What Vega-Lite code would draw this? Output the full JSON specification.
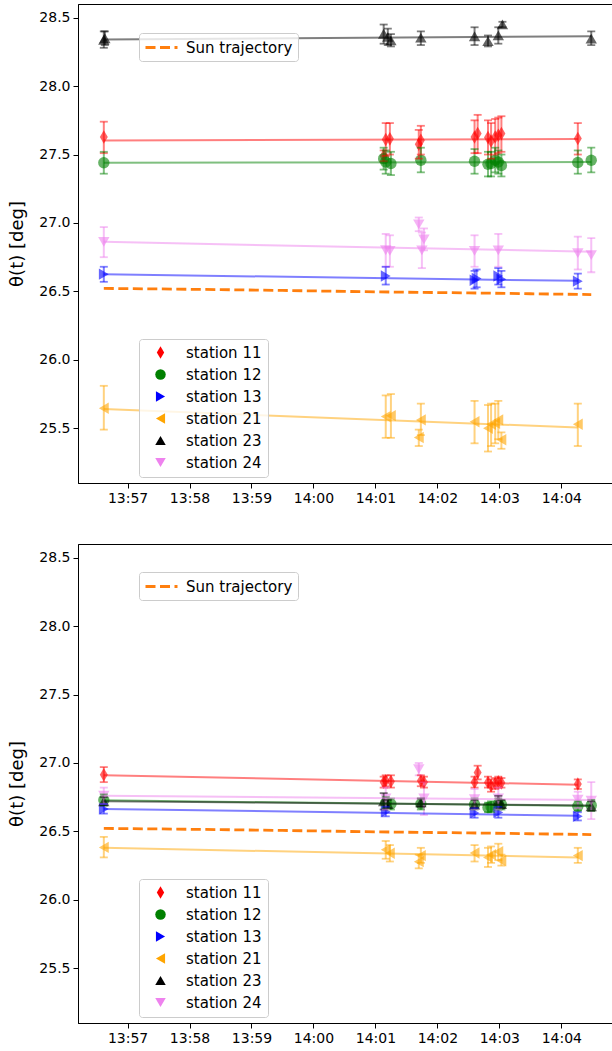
{
  "$schema": "https://vega.github.io/schema/vega-lite/v6.json",
  "padding": {"left": 8, "top": 3, "right": 0, "bottom": 5},
  "bounds": "flush",
  "spacing": 61,
  "config": {
    "font": "DejaVu Sans",
    "view": {"stroke": "#000000", "strokeWidth": 1},
    "axis": {"grid": false, "domainColor": "#000000", "tickColor": "#000000", "labelColor": "#000000", "labelFont": "DejaVu Sans", "labelFontSize": 14, "tickSize": 5, "labelPadding": 3, "titleFont": "DejaVu Sans", "titleFontSize": 18, "titleFontWeight": "normal", "titleColor": "#000000"},
    "legend": {"labelFont": "DejaVu Sans", "labelFontSize": 15, "labelColor": "#000000", "strokeColor": "#cccccc", "fillColor": "rgba(255,255,255,0.8)", "cornerRadius": 3, "orient": "none"}
  },
  "datasets": {
    "pts": [
      {"panel": "A", "station": "station 11", "t": "2024-01-01T13:56:37", "v": 27.628, "lo": 27.51, "hi": 27.74},
      {"panel": "A", "station": "station 11", "t": "2024-01-01T14:01:08", "v": 27.49, "lo": 27.45, "hi": 27.53},
      {"panel": "A", "station": "station 11", "t": "2024-01-01T14:01:10", "v": 27.61, "lo": 27.49, "hi": 27.73},
      {"panel": "A", "station": "station 11", "t": "2024-01-01T14:01:14", "v": 27.615, "lo": 27.5, "hi": 27.73},
      {"panel": "A", "station": "station 11", "t": "2024-01-01T14:01:42", "v": 27.575, "lo": 27.47, "hi": 27.68},
      {"panel": "A", "station": "station 11", "t": "2024-01-01T14:01:44", "v": 27.604, "lo": 27.5, "hi": 27.71},
      {"panel": "A", "station": "station 11", "t": "2024-01-01T14:02:36", "v": 27.628, "lo": 27.51, "hi": 27.75},
      {"panel": "A", "station": "station 11", "t": "2024-01-01T14:02:39", "v": 27.653, "lo": 27.51, "hi": 27.79},
      {"panel": "A", "station": "station 11", "t": "2024-01-01T14:02:49", "v": 27.624, "lo": 27.5, "hi": 27.75},
      {"panel": "A", "station": "station 11", "t": "2024-01-01T14:02:52", "v": 27.599, "lo": 27.47, "hi": 27.73},
      {"panel": "A", "station": "station 11", "t": "2024-01-01T14:02:56", "v": 27.628, "lo": 27.5, "hi": 27.76},
      {"panel": "A", "station": "station 11", "t": "2024-01-01T14:02:59", "v": 27.641, "lo": 27.51, "hi": 27.77},
      {"panel": "A", "station": "station 11", "t": "2024-01-01T14:03:02", "v": 27.653, "lo": 27.52, "hi": 27.78},
      {"panel": "A", "station": "station 11", "t": "2024-01-01T14:04:16", "v": 27.617, "lo": 27.5, "hi": 27.73},
      {"panel": "A", "station": "station 12", "t": "2024-01-01T13:56:37", "v": 27.44, "lo": 27.36, "hi": 27.52},
      {"panel": "A", "station": "station 12", "t": "2024-01-01T14:01:08", "v": 27.47, "lo": 27.39, "hi": 27.55},
      {"panel": "A", "station": "station 12", "t": "2024-01-01T14:01:10", "v": 27.446, "lo": 27.36, "hi": 27.53},
      {"panel": "A", "station": "station 12", "t": "2024-01-01T14:01:15", "v": 27.434, "lo": 27.35, "hi": 27.52},
      {"panel": "A", "station": "station 12", "t": "2024-01-01T14:01:44", "v": 27.458, "lo": 27.37, "hi": 27.55},
      {"panel": "A", "station": "station 12", "t": "2024-01-01T14:02:36", "v": 27.451, "lo": 27.36, "hi": 27.54},
      {"panel": "A", "station": "station 12", "t": "2024-01-01T14:02:49", "v": 27.429, "lo": 27.34, "hi": 27.52},
      {"panel": "A", "station": "station 12", "t": "2024-01-01T14:02:52", "v": 27.434, "lo": 27.34, "hi": 27.52},
      {"panel": "A", "station": "station 12", "t": "2024-01-01T14:02:56", "v": 27.458, "lo": 27.37, "hi": 27.55},
      {"panel": "A", "station": "station 12", "t": "2024-01-01T14:02:59", "v": 27.446, "lo": 27.36, "hi": 27.53},
      {"panel": "A", "station": "station 12", "t": "2024-01-01T14:03:02", "v": 27.42, "lo": 27.34, "hi": 27.5},
      {"panel": "A", "station": "station 12", "t": "2024-01-01T14:04:16", "v": 27.442, "lo": 27.36, "hi": 27.53},
      {"panel": "A", "station": "station 12", "t": "2024-01-01T14:04:29", "v": 27.458, "lo": 27.37, "hi": 27.55},
      {"panel": "A", "station": "station 13", "t": "2024-01-01T13:56:37", "v": 26.626, "lo": 26.57, "hi": 26.68},
      {"panel": "A", "station": "station 13", "t": "2024-01-01T14:01:10", "v": 26.612, "lo": 26.55, "hi": 26.68},
      {"panel": "A", "station": "station 13", "t": "2024-01-01T14:02:36", "v": 26.582, "lo": 26.52, "hi": 26.65},
      {"panel": "A", "station": "station 13", "t": "2024-01-01T14:02:38", "v": 26.595, "lo": 26.53, "hi": 26.66},
      {"panel": "A", "station": "station 13", "t": "2024-01-01T14:02:59", "v": 26.612, "lo": 26.55, "hi": 26.67},
      {"panel": "A", "station": "station 13", "t": "2024-01-01T14:03:02", "v": 26.588, "lo": 26.53, "hi": 26.65},
      {"panel": "A", "station": "station 13", "t": "2024-01-01T14:04:16", "v": 26.575, "lo": 26.52, "hi": 26.63},
      {"panel": "A", "station": "station 21", "t": "2024-01-01T13:56:37", "v": 25.646, "lo": 25.49, "hi": 25.81},
      {"panel": "A", "station": "station 21", "t": "2024-01-01T14:01:10", "v": 25.585, "lo": 25.43, "hi": 25.74},
      {"panel": "A", "station": "station 21", "t": "2024-01-01T14:01:15", "v": 25.592, "lo": 25.43, "hi": 25.75},
      {"panel": "A", "station": "station 21", "t": "2024-01-01T14:01:42", "v": 25.432, "lo": 25.37, "hi": 25.49},
      {"panel": "A", "station": "station 21", "t": "2024-01-01T14:01:44", "v": 25.561, "lo": 25.45, "hi": 25.68},
      {"panel": "A", "station": "station 21", "t": "2024-01-01T14:02:36", "v": 25.548, "lo": 25.39, "hi": 25.7},
      {"panel": "A", "station": "station 21", "t": "2024-01-01T14:02:49", "v": 25.5, "lo": 25.33, "hi": 25.67},
      {"panel": "A", "station": "station 21", "t": "2024-01-01T14:02:52", "v": 25.529, "lo": 25.37, "hi": 25.68},
      {"panel": "A", "station": "station 21", "t": "2024-01-01T14:02:56", "v": 25.536, "lo": 25.39, "hi": 25.68},
      {"panel": "A", "station": "station 21", "t": "2024-01-01T14:02:59", "v": 25.561, "lo": 25.42, "hi": 25.7},
      {"panel": "A", "station": "station 21", "t": "2024-01-01T14:03:02", "v": 25.416, "lo": 25.35, "hi": 25.47},
      {"panel": "A", "station": "station 21", "t": "2024-01-01T14:04:16", "v": 25.529, "lo": 25.37, "hi": 25.68},
      {"panel": "A", "station": "station 23", "t": "2024-01-01T13:56:37", "v": 28.339, "lo": 28.28, "hi": 28.4},
      {"panel": "A", "station": "station 23", "t": "2024-01-01T13:56:38", "v": 28.35, "lo": 28.3, "hi": 28.4},
      {"panel": "A", "station": "station 23", "t": "2024-01-01T14:01:08", "v": 28.383, "lo": 28.31, "hi": 28.45},
      {"panel": "A", "station": "station 23", "t": "2024-01-01T14:01:12", "v": 28.36, "lo": 28.3, "hi": 28.42},
      {"panel": "A", "station": "station 23", "t": "2024-01-01T14:01:15", "v": 28.334, "lo": 28.29, "hi": 28.38},
      {"panel": "A", "station": "station 23", "t": "2024-01-01T14:01:44", "v": 28.354, "lo": 28.3, "hi": 28.4},
      {"panel": "A", "station": "station 23", "t": "2024-01-01T14:02:36", "v": 28.364, "lo": 28.3, "hi": 28.43},
      {"panel": "A", "station": "station 23", "t": "2024-01-01T14:02:49", "v": 28.329, "lo": 28.29, "hi": 28.37},
      {"panel": "A", "station": "station 23", "t": "2024-01-01T14:02:59", "v": 28.371, "lo": 28.31, "hi": 28.43},
      {"panel": "A", "station": "station 23", "t": "2024-01-01T14:03:03", "v": 28.451, "lo": 28.43, "hi": 28.47},
      {"panel": "A", "station": "station 23", "t": "2024-01-01T14:04:29", "v": 28.347, "lo": 28.3, "hi": 28.4},
      {"panel": "A", "station": "station 24", "t": "2024-01-01T13:56:37", "v": 26.862, "lo": 26.75, "hi": 26.97},
      {"panel": "A", "station": "station 24", "t": "2024-01-01T14:01:10", "v": 26.801, "lo": 26.68, "hi": 26.92},
      {"panel": "A", "station": "station 24", "t": "2024-01-01T14:01:14", "v": 26.796, "lo": 26.68, "hi": 26.91},
      {"panel": "A", "station": "station 24", "t": "2024-01-01T14:01:42", "v": 26.99, "lo": 26.94, "hi": 27.04},
      {"panel": "A", "station": "station 24", "t": "2024-01-01T14:01:45", "v": 26.8, "lo": 26.67, "hi": 26.93},
      {"panel": "A", "station": "station 24", "t": "2024-01-01T14:01:47", "v": 26.88, "lo": 26.8, "hi": 26.96},
      {"panel": "A", "station": "station 24", "t": "2024-01-01T14:02:36", "v": 26.796, "lo": 26.68, "hi": 26.91},
      {"panel": "A", "station": "station 24", "t": "2024-01-01T14:02:59", "v": 26.8, "lo": 26.68, "hi": 26.92},
      {"panel": "A", "station": "station 24", "t": "2024-01-01T14:04:16", "v": 26.78, "lo": 26.66, "hi": 26.9},
      {"panel": "A", "station": "station 24", "t": "2024-01-01T14:04:29", "v": 26.765, "lo": 26.64, "hi": 26.89},
      {"panel": "B", "station": "station 11", "t": "2024-01-01T13:56:37", "v": 26.914, "lo": 26.86, "hi": 26.97},
      {"panel": "B", "station": "station 11", "t": "2024-01-01T14:01:08", "v": 26.86, "lo": 26.82, "hi": 26.9},
      {"panel": "B", "station": "station 11", "t": "2024-01-01T14:01:10", "v": 26.87, "lo": 26.83, "hi": 26.91},
      {"panel": "B", "station": "station 11", "t": "2024-01-01T14:01:15", "v": 26.865, "lo": 26.82, "hi": 26.91},
      {"panel": "B", "station": "station 11", "t": "2024-01-01T14:01:44", "v": 26.87, "lo": 26.83, "hi": 26.91},
      {"panel": "B", "station": "station 11", "t": "2024-01-01T14:01:47", "v": 26.86, "lo": 26.82, "hi": 26.9},
      {"panel": "B", "station": "station 11", "t": "2024-01-01T14:02:36", "v": 26.86, "lo": 26.82, "hi": 26.9},
      {"panel": "B", "station": "station 11", "t": "2024-01-01T14:02:39", "v": 26.93, "lo": 26.88, "hi": 26.98},
      {"panel": "B", "station": "station 11", "t": "2024-01-01T14:02:49", "v": 26.858, "lo": 26.82, "hi": 26.9},
      {"panel": "B", "station": "station 11", "t": "2024-01-01T14:02:52", "v": 26.834, "lo": 26.79, "hi": 26.88},
      {"panel": "B", "station": "station 11", "t": "2024-01-01T14:02:56", "v": 26.85, "lo": 26.81, "hi": 26.89},
      {"panel": "B", "station": "station 11", "t": "2024-01-01T14:02:59", "v": 26.863, "lo": 26.82, "hi": 26.9},
      {"panel": "B", "station": "station 11", "t": "2024-01-01T14:03:02", "v": 26.855, "lo": 26.82, "hi": 26.89},
      {"panel": "B", "station": "station 11", "t": "2024-01-01T14:04:16", "v": 26.846, "lo": 26.81, "hi": 26.88},
      {"panel": "B", "station": "station 12", "t": "2024-01-01T13:56:37", "v": 26.729, "lo": 26.69, "hi": 26.77},
      {"panel": "B", "station": "station 12", "t": "2024-01-01T14:01:10", "v": 26.71, "lo": 26.67, "hi": 26.75},
      {"panel": "B", "station": "station 12", "t": "2024-01-01T14:01:15", "v": 26.7, "lo": 26.66, "hi": 26.74},
      {"panel": "B", "station": "station 12", "t": "2024-01-01T14:01:44", "v": 26.7, "lo": 26.66, "hi": 26.74},
      {"panel": "B", "station": "station 12", "t": "2024-01-01T14:02:36", "v": 26.696, "lo": 26.66, "hi": 26.74},
      {"panel": "B", "station": "station 12", "t": "2024-01-01T14:02:49", "v": 26.675, "lo": 26.64, "hi": 26.71},
      {"panel": "B", "station": "station 12", "t": "2024-01-01T14:02:52", "v": 26.68, "lo": 26.64, "hi": 26.72},
      {"panel": "B", "station": "station 12", "t": "2024-01-01T14:02:59", "v": 26.7, "lo": 26.66, "hi": 26.74},
      {"panel": "B", "station": "station 12", "t": "2024-01-01T14:03:02", "v": 26.696, "lo": 26.66, "hi": 26.73},
      {"panel": "B", "station": "station 12", "t": "2024-01-01T14:04:16", "v": 26.683, "lo": 26.65, "hi": 26.72},
      {"panel": "B", "station": "station 12", "t": "2024-01-01T14:04:29", "v": 26.69, "lo": 26.65, "hi": 26.73},
      {"panel": "B", "station": "station 13", "t": "2024-01-01T13:56:37", "v": 26.664, "lo": 26.63, "hi": 26.7},
      {"panel": "B", "station": "station 13", "t": "2024-01-01T14:01:10", "v": 26.644, "lo": 26.61, "hi": 26.68},
      {"panel": "B", "station": "station 13", "t": "2024-01-01T14:02:36", "v": 26.634, "lo": 26.6, "hi": 26.67},
      {"panel": "B", "station": "station 13", "t": "2024-01-01T14:02:59", "v": 26.639, "lo": 26.6, "hi": 26.68},
      {"panel": "B", "station": "station 13", "t": "2024-01-01T14:04:16", "v": 26.61, "lo": 26.58, "hi": 26.64},
      {"panel": "B", "station": "station 21", "t": "2024-01-01T13:56:37", "v": 26.383, "lo": 26.31, "hi": 26.46},
      {"panel": "B", "station": "station 21", "t": "2024-01-01T14:01:10", "v": 26.366, "lo": 26.3, "hi": 26.43},
      {"panel": "B", "station": "station 21", "t": "2024-01-01T14:01:14", "v": 26.34, "lo": 26.28, "hi": 26.4},
      {"panel": "B", "station": "station 21", "t": "2024-01-01T14:01:42", "v": 26.279, "lo": 26.23, "hi": 26.33},
      {"panel": "B", "station": "station 21", "t": "2024-01-01T14:01:44", "v": 26.323, "lo": 26.27, "hi": 26.38},
      {"panel": "B", "station": "station 21", "t": "2024-01-01T14:02:36", "v": 26.342, "lo": 26.28, "hi": 26.4},
      {"panel": "B", "station": "station 21", "t": "2024-01-01T14:02:49", "v": 26.31, "lo": 26.24, "hi": 26.38},
      {"panel": "B", "station": "station 21", "t": "2024-01-01T14:02:52", "v": 26.33, "lo": 26.27, "hi": 26.39},
      {"panel": "B", "station": "station 21", "t": "2024-01-01T14:02:59", "v": 26.352, "lo": 26.29, "hi": 26.41},
      {"panel": "B", "station": "station 21", "t": "2024-01-01T14:03:02", "v": 26.286, "lo": 26.25, "hi": 26.33},
      {"panel": "B", "station": "station 21", "t": "2024-01-01T14:04:16", "v": 26.323, "lo": 26.27, "hi": 26.38},
      {"panel": "B", "station": "station 23", "t": "2024-01-01T13:56:37", "v": 26.719, "lo": 26.69, "hi": 26.75},
      {"panel": "B", "station": "station 23", "t": "2024-01-01T14:01:08", "v": 26.72, "lo": 26.66, "hi": 26.78},
      {"panel": "B", "station": "station 23", "t": "2024-01-01T14:01:12", "v": 26.7, "lo": 26.67, "hi": 26.73},
      {"panel": "B", "station": "station 23", "t": "2024-01-01T14:01:44", "v": 26.712, "lo": 26.68, "hi": 26.74},
      {"panel": "B", "station": "station 23", "t": "2024-01-01T14:02:36", "v": 26.696, "lo": 26.67, "hi": 26.73},
      {"panel": "B", "station": "station 23", "t": "2024-01-01T14:02:59", "v": 26.724, "lo": 26.69, "hi": 26.76},
      {"panel": "B", "station": "station 23", "t": "2024-01-01T14:03:02", "v": 26.7, "lo": 26.67, "hi": 26.73},
      {"panel": "B", "station": "station 23", "t": "2024-01-01T14:04:29", "v": 26.683, "lo": 26.65, "hi": 26.72},
      {"panel": "B", "station": "station 24", "t": "2024-01-01T13:56:37", "v": 26.761, "lo": 26.7, "hi": 26.82},
      {"panel": "B", "station": "station 24", "t": "2024-01-01T14:01:10", "v": 26.74, "lo": 26.66, "hi": 26.82},
      {"panel": "B", "station": "station 24", "t": "2024-01-01T14:01:42", "v": 26.955, "lo": 26.91, "hi": 27.0},
      {"panel": "B", "station": "station 24", "t": "2024-01-01T14:01:47", "v": 26.74, "lo": 26.62, "hi": 26.86},
      {"panel": "B", "station": "station 24", "t": "2024-01-01T14:02:36", "v": 26.736, "lo": 26.66, "hi": 26.81},
      {"panel": "B", "station": "station 24", "t": "2024-01-01T14:02:59", "v": 26.741, "lo": 26.66, "hi": 26.82},
      {"panel": "B", "station": "station 24", "t": "2024-01-01T14:04:16", "v": 26.731, "lo": 26.67, "hi": 26.79},
      {"panel": "B", "station": "station 24", "t": "2024-01-01T14:04:29", "v": 26.724, "lo": 26.59, "hi": 26.86}
    ],
    "fits": [
      {"panel": "A", "station": "station 11", "t": "2024-01-01T13:56:37", "v": 27.602},
      {"panel": "A", "station": "station 11", "t": "2024-01-01T14:04:16", "v": 27.613},
      {"panel": "A", "station": "station 12", "t": "2024-01-01T13:56:37", "v": 27.44},
      {"panel": "A", "station": "station 12", "t": "2024-01-01T14:04:29", "v": 27.445},
      {"panel": "A", "station": "station 13", "t": "2024-01-01T13:56:37", "v": 26.625},
      {"panel": "A", "station": "station 13", "t": "2024-01-01T14:04:16", "v": 26.577},
      {"panel": "A", "station": "station 21", "t": "2024-01-01T13:56:37", "v": 25.64},
      {"panel": "A", "station": "station 21", "t": "2024-01-01T14:04:16", "v": 25.505},
      {"panel": "A", "station": "station 23", "t": "2024-01-01T13:56:37", "v": 28.34},
      {"panel": "A", "station": "station 23", "t": "2024-01-01T14:04:29", "v": 28.364},
      {"panel": "A", "station": "station 24", "t": "2024-01-01T13:56:37", "v": 26.862},
      {"panel": "A", "station": "station 24", "t": "2024-01-01T14:04:29", "v": 26.79},
      {"panel": "B", "station": "station 11", "t": "2024-01-01T13:56:37", "v": 26.91},
      {"panel": "B", "station": "station 11", "t": "2024-01-01T14:04:16", "v": 26.841},
      {"panel": "B", "station": "station 12", "t": "2024-01-01T13:56:37", "v": 26.727},
      {"panel": "B", "station": "station 12", "t": "2024-01-01T14:04:29", "v": 26.685},
      {"panel": "B", "station": "station 13", "t": "2024-01-01T13:56:37", "v": 26.664},
      {"panel": "B", "station": "station 13", "t": "2024-01-01T14:04:16", "v": 26.615},
      {"panel": "B", "station": "station 21", "t": "2024-01-01T13:56:37", "v": 26.38},
      {"panel": "B", "station": "station 21", "t": "2024-01-01T14:04:16", "v": 26.31},
      {"panel": "B", "station": "station 23", "t": "2024-01-01T13:56:37", "v": 26.72},
      {"panel": "B", "station": "station 23", "t": "2024-01-01T14:04:29", "v": 26.69},
      {"panel": "B", "station": "station 24", "t": "2024-01-01T13:56:37", "v": 26.761},
      {"panel": "B", "station": "station 24", "t": "2024-01-01T14:04:29", "v": 26.729}
    ],
    "sun": [
      {"series": "Sun trajectory", "t": "2024-01-01T13:56:37", "v": 26.522},
      {"series": "Sun trajectory", "t": "2024-01-01T13:57:30", "v": 26.518},
      {"series": "Sun trajectory", "t": "2024-01-01T13:58:30", "v": 26.513},
      {"series": "Sun trajectory", "t": "2024-01-01T13:59:30", "v": 26.507},
      {"series": "Sun trajectory", "t": "2024-01-01T14:00:30", "v": 26.5},
      {"series": "Sun trajectory", "t": "2024-01-01T14:01:30", "v": 26.494},
      {"series": "Sun trajectory", "t": "2024-01-01T14:02:30", "v": 26.489},
      {"series": "Sun trajectory", "t": "2024-01-01T14:03:30", "v": 26.483},
      {"series": "Sun trajectory", "t": "2024-01-01T14:04:29", "v": 26.477}
    ]
  },
  "resolve": {"scale": {"color": "independent", "shape": "independent", "strokeDash": "independent"}},
  "vconcat": [
    {
      "width": 537, "height": 479,
      "layer": [
        {"data": {"name": "pts"}, "transform": [{"filter": "datum.panel == 'A'"}], "mark": {"type": "point", "filled": true, "size": 130, "opacity": 0.6},
         "encoding": {
           "x": {"field": "t", "type": "temporal", "scale": {"domain": [{"year": 2024, "month": 1, "date": 1, "hours": 13, "minutes": 56, "seconds": 12}, {"year": 2024, "month": 1, "date": 1, "hours": 14, "minutes": 4, "seconds": 52}]}, "axis": {"title": null, "format": "%H:%M", "values": [{"year": 2024, "month": 1, "date": 1, "hours": 13, "minutes": 57}, {"year": 2024, "month": 1, "date": 1, "hours": 13, "minutes": 58}, {"year": 2024, "month": 1, "date": 1, "hours": 13, "minutes": 59}, {"year": 2024, "month": 1, "date": 1, "hours": 14, "minutes": 0}, {"year": 2024, "month": 1, "date": 1, "hours": 14, "minutes": 1}, {"year": 2024, "month": 1, "date": 1, "hours": 14, "minutes": 2}, {"year": 2024, "month": 1, "date": 1, "hours": 14, "minutes": 3}, {"year": 2024, "month": 1, "date": 1, "hours": 14, "minutes": 4}]}},
           "y": {"field": "v", "type": "quantitative", "scale": {"domain": [25.1, 28.6], "nice": false, "zero": false}, "axis": {"title": "θ(t) [deg]", "values": [25.5, 26.0, 26.5, 27.0, 27.5, 28.0, 28.5], "format": ".1f", "titlePadding": 12}},
           "color": {"field": "station", "type": "nominal", "scale": {"domain": ["station 11", "station 12", "station 13", "station 21", "station 23", "station 24"], "range": ["#ff0000", "#008000", "#0000ff", "#ffa500", "#000000", "#ee82ee"]}, "legend": {"title": null, "legendX": 61, "legendY": 335, "padding": 6, "rowPadding": 6, "symbolSize": 110, "symbolOffset": 8, "labelOffset": 18, "symbolOpacity": 1, "symbolStrokeWidth": 0, "encode": {"symbols": {"update": {"opacity": {"value": 1}}}}}},
           "shape": {"field": "station", "type": "nominal", "scale": {"domain": ["station 11", "station 12", "station 13", "station 21", "station 23", "station 24"], "range": ["M0,-1.2L0.7,0L0,1.2L-0.7,0Z", "circle", "triangle-right", "triangle-left", "triangle-up", "triangle-down"]}, "legend": {"title": null, "legendX": 61, "legendY": 335}}}},
        {"data": {"name": "pts"}, "transform": [{"filter": "datum.panel == 'A'"}], "mark": {"type": "rule", "strokeWidth": 2, "opacity": 0.5},
         "encoding": {"x": {"field": "t", "type": "temporal"}, "y": {"field": "lo", "type": "quantitative"}, "y2": {"field": "hi"}, "color": {"field": "station", "type": "nominal"}}},
        {"data": {"name": "pts"}, "transform": [{"filter": "datum.panel == 'A'"}], "mark": {"type": "tick", "orient": "horizontal", "size": 8, "thickness": 1.8, "opacity": 0.5},
         "encoding": {"x": {"field": "t", "type": "temporal"}, "y": {"field": "lo", "type": "quantitative"}, "color": {"field": "station", "type": "nominal"}}},
        {"data": {"name": "pts"}, "transform": [{"filter": "datum.panel == 'A'"}], "mark": {"type": "tick", "orient": "horizontal", "size": 8, "thickness": 1.8, "opacity": 0.5},
         "encoding": {"x": {"field": "t", "type": "temporal"}, "y": {"field": "hi", "type": "quantitative"}, "color": {"field": "station", "type": "nominal"}}},
        {"data": {"name": "fits"}, "transform": [{"filter": "datum.panel == 'A'"}], "mark": {"type": "line", "strokeWidth": 2, "opacity": 0.5},
         "encoding": {"x": {"field": "t", "type": "temporal"}, "y": {"field": "v", "type": "quantitative"}, "detail": {"field": "station"}, "color": {"field": "station", "type": "nominal"}}},
        {"data": {"name": "sun"}, "mark": {"type": "line", "color": "#ff7f0e", "strokeWidth": 2.8},
         "encoding": {"x": {"field": "t", "type": "temporal"}, "y": {"field": "v", "type": "quantitative"},
           "strokeDash": {"field": "series", "type": "nominal", "scale": {"range": [[10, 4.5]]}, "legend": {"title": null, "symbolType": "M-2,0H2", "symbolStrokeColor": "#ff7f0e", "symbolStrokeWidth": 2.8, "symbolSize": 256, "symbolOffset": 8, "legendX": 61, "legendY": 29, "padding": 5, "labelOffset": 15}}}}
      ]
    },
    {
      "width": 537, "height": 479,
      "layer": [
        {"data": {"name": "pts"}, "transform": [{"filter": "datum.panel == 'B'"}], "mark": {"type": "point", "filled": true, "size": 130, "opacity": 0.6},
         "encoding": {
           "x": {"field": "t", "type": "temporal", "scale": {"domain": [{"year": 2024, "month": 1, "date": 1, "hours": 13, "minutes": 56, "seconds": 12}, {"year": 2024, "month": 1, "date": 1, "hours": 14, "minutes": 4, "seconds": 52}]}, "axis": {"title": null, "format": "%H:%M", "values": [{"year": 2024, "month": 1, "date": 1, "hours": 13, "minutes": 57}, {"year": 2024, "month": 1, "date": 1, "hours": 13, "minutes": 58}, {"year": 2024, "month": 1, "date": 1, "hours": 13, "minutes": 59}, {"year": 2024, "month": 1, "date": 1, "hours": 14, "minutes": 0}, {"year": 2024, "month": 1, "date": 1, "hours": 14, "minutes": 1}, {"year": 2024, "month": 1, "date": 1, "hours": 14, "minutes": 2}, {"year": 2024, "month": 1, "date": 1, "hours": 14, "minutes": 3}, {"year": 2024, "month": 1, "date": 1, "hours": 14, "minutes": 4}]}},
           "y": {"field": "v", "type": "quantitative", "scale": {"domain": [25.1, 28.6], "nice": false, "zero": false}, "axis": {"title": "θ(t) [deg]", "values": [25.5, 26.0, 26.5, 27.0, 27.5, 28.0, 28.5], "format": ".1f", "titlePadding": 12}},
           "color": {"field": "station", "type": "nominal", "scale": {"domain": ["station 11", "station 12", "station 13", "station 21", "station 23", "station 24"], "range": ["#ff0000", "#008000", "#0000ff", "#ffa500", "#000000", "#ee82ee"]}, "legend": {"title": null, "legendX": 61, "legendY": 335, "padding": 6, "rowPadding": 6, "symbolSize": 110, "symbolOffset": 8, "labelOffset": 18, "symbolOpacity": 1, "symbolStrokeWidth": 0, "encode": {"symbols": {"update": {"opacity": {"value": 1}}}}}},
           "shape": {"field": "station", "type": "nominal", "scale": {"domain": ["station 11", "station 12", "station 13", "station 21", "station 23", "station 24"], "range": ["M0,-1.2L0.7,0L0,1.2L-0.7,0Z", "circle", "triangle-right", "triangle-left", "triangle-up", "triangle-down"]}, "legend": {"title": null, "legendX": 61, "legendY": 335}}}},
        {"data": {"name": "pts"}, "transform": [{"filter": "datum.panel == 'B'"}], "mark": {"type": "rule", "strokeWidth": 2, "opacity": 0.5},
         "encoding": {"x": {"field": "t", "type": "temporal"}, "y": {"field": "lo", "type": "quantitative"}, "y2": {"field": "hi"}, "color": {"field": "station", "type": "nominal"}}},
        {"data": {"name": "pts"}, "transform": [{"filter": "datum.panel == 'B'"}], "mark": {"type": "tick", "orient": "horizontal", "size": 8, "thickness": 1.8, "opacity": 0.5},
         "encoding": {"x": {"field": "t", "type": "temporal"}, "y": {"field": "lo", "type": "quantitative"}, "color": {"field": "station", "type": "nominal"}}},
        {"data": {"name": "pts"}, "transform": [{"filter": "datum.panel == 'B'"}], "mark": {"type": "tick", "orient": "horizontal", "size": 8, "thickness": 1.8, "opacity": 0.5},
         "encoding": {"x": {"field": "t", "type": "temporal"}, "y": {"field": "hi", "type": "quantitative"}, "color": {"field": "station", "type": "nominal"}}},
        {"data": {"name": "fits"}, "transform": [{"filter": "datum.panel == 'B'"}], "mark": {"type": "line", "strokeWidth": 2, "opacity": 0.5},
         "encoding": {"x": {"field": "t", "type": "temporal"}, "y": {"field": "v", "type": "quantitative"}, "detail": {"field": "station"}, "color": {"field": "station", "type": "nominal"}}},
        {"data": {"name": "sun"}, "mark": {"type": "line", "color": "#ff7f0e", "strokeWidth": 2.8},
         "encoding": {"x": {"field": "t", "type": "temporal"}, "y": {"field": "v", "type": "quantitative"},
           "strokeDash": {"field": "series", "type": "nominal", "scale": {"range": [[10, 4.5]]}, "legend": {"title": null, "symbolType": "M-2,0H2", "symbolStrokeColor": "#ff7f0e", "symbolStrokeWidth": 2.8, "symbolSize": 256, "symbolOffset": 8, "legendX": 61, "legendY": 28, "padding": 5, "labelOffset": 15}}}}
      ]
    }
  ]
}
